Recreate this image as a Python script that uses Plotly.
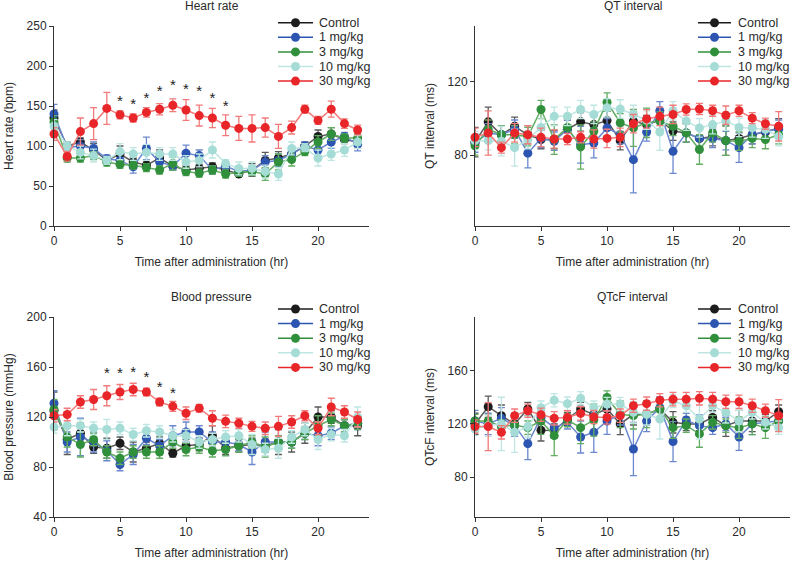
import plotly.graph_objects as go

hours = list(range(24))
groups = ["Control", "1 mg/kg", "3 mg/kg", "10 mg/kg", "30 mg/kg"]
marker_colors = ["#1c1c1c", "#2b55b0", "#2f8f3a", "#a6dcd6", "#e8262a"]
line_colors = ["#5a5a5a", "#6a88cf", "#62ad62", "#bfe6e2", "#f27a7a"]

# ---------------- Heart rate (bpm) ----------------
hr_control = [135, 100, 105, 95, 82, 90, 80, 76, 85, 75, 70, 72, 74, 70, 65, 70, 82, 85, 90, 100, 112, 115, 108, 105]
hr_1 = [140, 98, 100, 97, 84, 82, 74, 97, 80, 75, 91, 88, 70, 75, 68, 70, 80, 82, 90, 100, 95, 105, 112, 102]
hr_3 = [130, 85, 85, 88, 80, 77, 76, 73, 70, 78, 68, 66, 70, 65, 67, 68, 65, 80, 83, 93, 105, 115, 110, 110]
hr_10 = [125, 100, 92, 88, 82, 93, 90, 92, 90, 90, 80, 82, 95, 78, 72, 72, 68, 65, 97, 98, 85, 90, 95, 105]
hr_30 = [115, 87, 118, 128, 147, 139, 135, 142, 146, 151, 145, 138, 135, 126, 122, 122, 123, 112, 123, 146, 132, 146, 128, 120]
hr_control_err = [10, 5, 5, 8, 5, 10, 5, 5, 10, 5, 5, 5, 5, 5, 3, 8, 10, 8, 8, 5, 8, 8, 5, 8]
hr_1_err = [12, 5, 8, 8, 5, 8, 8, 14, 8, 5, 10, 7, 5, 5, 5, 5, 8, 8, 8, 5, 8, 8, 5, 8]
hr_3_err = [8, 5, 5, 5, 5, 5, 5, 5, 5, 8, 5, 5, 5, 5, 5, 5, 8, 10, 8, 5, 8, 8, 5, 5]
hr_10_err = [8, 5, 8, 8, 5, 10, 8, 10, 8, 8, 8, 8, 10, 5, 8, 8, 8, 8, 8, 5, 10, 8, 8, 8]
hr_30_err = [8, 6, 17, 20, 20, 5, 5, 6, 7, 8, 13, 13, 12, 13, 15, 17, 12, 15, 8, 5, 5, 10, 6, 6]
hr_star_hours = [5, 6, 7, 8, 9, 10, 11, 12, 13]
hr_star_y = [155, 151, 159, 167, 175, 170, 167, 158, 149]

# ---------------- QT interval (ms) ----------------
qt_control = [87, 98, 91, 95.6, 91, 88.4, 88.4, 94, 98, 96.5, 98.7, 87.8, 98.4, 96.5, 99, 93, 92, 89, 90, 87.8, 89, 91, 92.5, 94.7]
qt_1 = [86.5, 92, 91, 94, 81, 89, 87.5, 94, 85.6, 86.5, 94.7, 91, 77.5, 92.5, 104, 82, 92, 89, 89, 87.8, 84, 91, 93, 94]
qt_3 = [85, 94, 91, 91, 90, 104.7, 88.4, 95, 84.4, 93, 108.7, 97.5, 94.7, 97.5, 98.4, 95.6, 92, 83, 92, 87.8, 87.5, 89, 88.4, 91]
qt_10 = [87.8, 87.8, 87.5, 84, 88.4, 95, 101, 101, 104.7, 102, 105.6, 105, 102, 99, 92.5, 104, 98.4, 94.7, 96.5, 98.4, 95, 94.7, 94, 90]
qt_30 = [89.6, 92, 84, 92, 91, 89.6, 88.7, 88.7, 89.6, 88.7, 89, 89.6, 97, 99.6, 101, 102, 104.7, 105, 104, 101.6, 104, 100, 97, 95.6]
qt_control_err = [8, 8, 5, 5, 5, 5, 5, 5, 5, 5, 5, 5, 5, 5, 5, 5, 5, 5, 5, 8, 5, 5, 5, 5]
qt_1_err = [5, 5, 5, 5, 8, 5, 5, 5, 10, 8, 5, 5, 18, 5, 5, 12, 5, 5, 5, 5, 8, 5, 5, 5]
qt_3_err = [5, 5, 5, 5, 5, 5, 8, 5, 12, 5, 5, 5, 10, 8, 5, 5, 5, 8, 5, 8, 5, 5, 5, 5]
qt_10_err = [5, 5, 8, 10, 5, 5, 5, 5, 5, 5, 5, 5, 5, 5, 10, 5, 5, 5, 5, 5, 5, 5, 5, 5]
qt_30_err = [5, 12, 3, 5, 5, 5, 5, 3, 3, 5, 5, 5, 5, 5, 5, 5, 3, 3, 3, 5, 3, 3, 3, 8]

# ---------------- Blood pressure (mmHg) ----------------
bp_control = [125, 102, 107, 96, 95, 99, 92, 95, 99, 91, 97, 98, 105, 95, 97, 98, 97, 100, 100, 107, 120, 120, 113, 113]
bp_1 = [131, 100, 104, 100, 93, 82, 90, 103, 97, 105, 108, 108, 100, 100, 98, 92, 100, 100, 100, 107, 105, 107, 113, 115]
bp_3 = [126, 104, 98, 102, 92, 87, 92, 92, 92, 100, 94, 96, 93, 94, 97, 100, 96, 100, 100, 107, 113, 118, 113, 115]
bp_10 = [112, 113, 113, 111, 110, 111, 106, 109, 108, 105, 105, 100, 102, 104, 105, 98, 94, 95, 104, 110, 102, 106, 105, 120]
bp_30 = [121, 122, 132, 134, 137, 140, 142, 140, 132, 128.5, 123, 127, 119, 116.5, 115, 112.5, 111, 112.5, 116, 121, 111, 128, 124, 118]
bp_control_err = [15, 12, 8, 5, 8, 5, 8, 5, 5, 3, 5, 5, 8, 5, 5, 5, 5, 10, 8, 8, 8, 5, 5, 8]
bp_1_err = [10, 8, 15, 8, 8, 5, 8, 5, 5, 8, 8, 5, 8, 5, 5, 10, 8, 5, 5, 5, 8, 5, 5, 5]
bp_3_err = [8, 8, 10, 5, 5, 5, 5, 5, 5, 5, 5, 5, 5, 5, 5, 5, 8, 5, 5, 5, 8, 5, 5, 5]
bp_10_err = [5, 8, 5, 5, 8, 5, 5, 5, 5, 5, 5, 5, 5, 5, 5, 8, 5, 8, 5, 5, 8, 5, 5, 8]
bp_30_err = [5, 5, 5, 8, 8, 6, 5, 3, 3, 4, 5, 3, 6, 5, 4, 4, 5, 8, 5, 4, 5, 7, 5, 6]
bp_star_hours = [4, 5, 6, 7, 8, 9]
bp_star_y = [154, 154, 155, 151, 143, 138.5]

# ---------------- QTcF interval (ms) ----------------
qtcf_control = [119.8, 132.7, 126, 119.8, 131, 115, 114.8, 123.5, 131, 127, 131, 119.8, 127, 127, 131, 121, 119.8, 119.8, 124.7, 118.5, 122, 122, 122, 129]
qtcf_1 = [122, 119.8, 124, 118.5, 105, 124.7, 117, 121, 110, 113.5, 122, 127, 101, 122, 132, 106.6, 122.7, 118.5, 117, 119.8, 110, 119.8, 121, 122]
qtcf_3 = [122, 122, 117.8, 119, 117, 122, 111, 122.7, 117, 122.7, 139.6, 127, 126, 127, 131, 117, 118.5, 112.3, 121, 118.5, 117, 119.8, 117, 122]
qtcf_10 = [116, 118.5, 119.8, 113.5, 117.8, 132, 137.6, 135, 139, 132, 134.7, 134.7, 128.5, 127, 123.5, 137, 133.4, 123.5, 133.4, 128.5, 122, 128.5, 121, 117]
qtcf_30 = [117.8, 117.8, 113.5, 126, 129.7, 126.7, 124, 124.7, 127.7, 125, 124.7, 126, 133.4, 135, 137.6, 138.4, 138.4, 139, 138.4, 136.4, 136.4, 133.4, 129.7, 126]
qtcf_control_err = [8, 8, 8, 8, 5, 8, 5, 5, 5, 5, 8, 8, 8, 8, 8, 8, 5, 5, 5, 8, 8, 8, 5, 5]
qtcf_1_err = [8, 8, 8, 8, 12, 5, 8, 5, 12, 15, 10, 8, 20, 8, 8, 15, 5, 8, 5, 5, 10, 8, 5, 5]
qtcf_3_err = [5, 5, 5, 5, 5, 10, 15, 5, 12, 12, 5, 10, 10, 10, 8, 8, 5, 10, 5, 5, 8, 8, 8, 5]
qtcf_10_err = [5, 8, 20, 15, 8, 5, 5, 5, 5, 5, 5, 5, 8, 8, 15, 5, 5, 15, 5, 8, 8, 5, 5, 5]
qtcf_30_err = [5, 18, 5, 5, 5, 5, 5, 5, 5, 5, 5, 5, 5, 5, 5, 5, 5, 5, 5, 5, 5, 5, 5, 12]

panels = [
    dict(title="Heart rate", ytitle="Heart rate (bpm)",
         series=[hr_control, hr_1, hr_3, hr_10, hr_30],
         errors=[hr_control_err, hr_1_err, hr_3_err, hr_10_err, hr_30_err],
         stars=(hr_star_hours, hr_star_y), yrange=[0, 250], ytick=[0, 50, 100, 150, 200, 250]),
    dict(title="QT interval", ytitle="QT interval (ms)",
         series=[qt_control, qt_1, qt_3, qt_10, qt_30],
         errors=[qt_control_err, qt_1_err, qt_3_err, qt_10_err, qt_30_err],
         stars=None, yrange=[41.5, 150], ytick=[80, 120]),
    dict(title="Blood pressure", ytitle="Blood pressure (mmHg)",
         series=[bp_control, bp_1, bp_3, bp_10, bp_30],
         errors=[bp_control_err, bp_1_err, bp_3_err, bp_10_err, bp_30_err],
         stars=(bp_star_hours, bp_star_y), yrange=[40, 200], ytick=[40, 80, 120, 160, 200]),
    dict(title="QTcF interval", ytitle="QTcF interval (ms)",
         series=[qtcf_control, qtcf_1, qtcf_3, qtcf_10, qtcf_30],
         errors=[qtcf_control_err, qtcf_1_err, qtcf_3_err, qtcf_10_err, qtcf_30_err],
         stars=None, yrange=[50, 200], ytick=[80, 120, 160]),
]

W, H = 791, 561
xdoms = [[54 / W, 369 / W], [475 / W, 790 / W]]
ydoms = [[1 - 226 / H, 1 - 26 / H], [1 - 517 / H, 1 - 317 / H]]
FONT = "Liberation Sans, Arial, sans-serif"
TXT = "#2a2a2a"

# legend placement (pixels): line start/end, text start, first row centre, row step
legend_line_x = [(278, 313), (698, 731)]
legend_text_x = [317, 736]
legend_row0_y = [22.7, 309]
legend_step = 14.6

fig = go.Figure()
annotations = []
shapes = []

for i, p in enumerate(panels):
    n = i + 1
    col, row = i % 2, i // 2
    xa = "x" if n == 1 else f"x{n}"
    ya = "y" if n == 1 else f"y{n}"
    for g, name in enumerate(groups):
        fig.add_trace(go.Scatter(
            x=hours, y=p["series"][g], name=name, mode="lines+markers",
            xaxis=xa, yaxis=ya, cliponaxis=False, showlegend=False,
            line=dict(color=line_colors[g], width=1.5),
            marker=dict(color=marker_colors[g], size=9, line=dict(width=0)),
            error_y=dict(type="data", array=p["errors"][g], visible=True,
                         color=line_colors[g], thickness=1.3, width=3.5),
        ))
    if p["stars"]:
        fig.add_trace(go.Scatter(
            x=p["stars"][0], y=p["stars"][1], mode="text", text=["*"] * len(p["stars"][0]),
            textfont=dict(size=15, color="#222", family=FONT), showlegend=False,
            xaxis=xa, yaxis=ya, cliponaxis=False, hoverinfo="skip",
        ))
    axsuffix = "" if n == 1 else str(n)
    fig.layout["xaxis" + axsuffix] = dict(
        domain=xdoms[col], anchor=ya, range=[0, 23.86], tickvals=[0, 5, 10, 15, 20],
        showline=True, linecolor="#333", linewidth=1, ticks="outside", ticklen=4,
        tickcolor="#333", showgrid=False, zeroline=False, automargin=False,
        title=dict(text="Time after administration (hr)", standoff=10, font=dict(size=12)),
        tickfont=dict(size=12),
    )
    fig.layout["yaxis" + axsuffix] = dict(
        domain=ydoms[row], anchor=xa, range=p["yrange"], tickvals=p["ytick"],
        showline=True, linecolor="#333", linewidth=1, ticks="outside", ticklen=4,
        tickcolor="#333", showgrid=False, zeroline=False, automargin=False,
        title=dict(text=p["ytitle"], standoff=10, font=dict(size=12)),
        tickfont=dict(size=12),
    )
    # panel title
    top_px = 6 if row == 0 else 297
    annotations.append(dict(
        text=p["title"], x=sum(xdoms[col]) / 2, y=1 - top_px / H, xref="paper", yref="paper",
        xanchor="center", yanchor="middle", showarrow=False, font=dict(size=12, color=TXT),
    ))
    # legend (drawn as chrome)
    x0, x1 = legend_line_x[col]
    xm = (x0 + x1) / 2
    for g, name in enumerate(groups):
        yp = legend_row0_y[row] + g * legend_step
        yf = 1 - yp / H
        shapes.append(dict(type="line", xref="paper", yref="paper",
                           x0=x0 / W, x1=x1 / W, y0=yf, y1=yf,
                           line=dict(color=marker_colors[g] if g != 3 else line_colors[g], width=1.5)))
        shapes.append(dict(type="circle", xref="paper", yref="paper",
                           x0=(xm - 4.5) / W, x1=(xm + 4.5) / W, y0=yf - 4.5 / H, y1=yf + 4.5 / H,
                           fillcolor=marker_colors[g], line=dict(width=0)))
        annotations.append(dict(
            text=name, x=legend_text_x[col] / W, y=yf, xref="paper", yref="paper",
            xanchor="left", yanchor="middle", showarrow=False,
            font=dict(size=12.5, color=TXT, family=FONT),
        ))

fig.update_layout(
    width=W, height=H, margin=dict(l=0, r=0, t=0, b=0, autoexpand=False),
    paper_bgcolor="white", plot_bgcolor="white",
    font=dict(family=FONT, size=12, color=TXT),
    annotations=annotations, shapes=shapes, showlegend=False,
)
fig.write_html(
    "out.html",
    config={"displayModeBar": False},
    post_script="document.body.style.margin='0px';document.body.style.overflow='hidden';",
)
